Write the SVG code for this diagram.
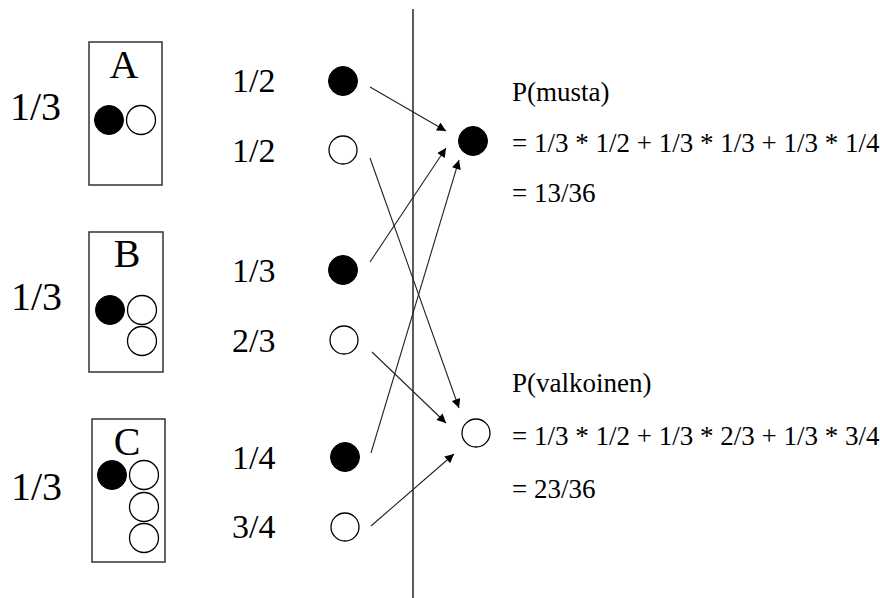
<svg xmlns="http://www.w3.org/2000/svg" width="880" height="598" viewBox="0 0 880 598">
<style>
text{font-family:'Liberation Serif','DejaVu Serif',serif;fill:#000}
.big{font-size:40px}
.mid{font-size:34px}
.eq{font-size:27px}
.box{fill:#fff;stroke:#333;stroke-width:1.5}
.b{fill:#000;stroke:#000;stroke-width:1}
.w{fill:#fff;stroke:#000;stroke-width:1.3}
.c{stroke:#222;stroke-width:1.1;fill:none;marker-end:url(#ah)}
</style>
<defs>
<marker id="ah" viewBox="0 0 10 10" refX="10" refY="5" markerWidth="11" markerHeight="9" markerUnits="userSpaceOnUse" orient="auto">
<path d="M0,0 L10,5 L0,10 z" fill="#000"/>
</marker>
</defs>
<rect width="880" height="598" fill="#fff"/>
<line x1="413" y1="9" x2="413" y2="598" stroke="#333" stroke-width="1.6"/>
<g id="urnA">
<text class="big" x="10" y="120">1/3</text>
<rect class="box" x="89" y="42" width="73" height="143"/>
<text class="big" x="124" y="78" text-anchor="middle">A</text>
<circle class="b" cx="109" cy="120" r="14.5"/>
<circle class="w" cx="141" cy="120" r="14.5"/>
</g>
<g id="urnB">
<text class="big" x="11" y="310">1/3</text>
<rect class="box" x="89" y="232" width="74" height="140"/>
<text class="big" x="127" y="267" text-anchor="middle">B</text>
<circle class="b" cx="110" cy="310" r="14.5"/>
<circle class="w" cx="142" cy="310" r="14.5"/>
<circle class="w" cx="142" cy="341" r="14.5"/>
</g>
<g id="urnC">
<text class="big" x="11" y="500">1/3</text>
<rect class="box" x="92" y="419" width="73" height="143"/>
<text class="big" x="127" y="455" text-anchor="middle">C</text>
<circle class="b" cx="112" cy="475" r="14.5"/>
<circle class="w" cx="144" cy="475" r="14.5"/>
<circle class="w" cx="144" cy="507" r="14.5"/>
<circle class="w" cx="144" cy="538" r="14.5"/>
</g>
<g id="a-black">
<text class="mid" x="232" y="92">1/2</text>
<circle class="b" cx="343" cy="81" r="14.5"/>
</g>
<g id="a-white">
<text class="mid" x="232" y="162">1/2</text>
<circle class="w" cx="343" cy="150" r="14"/>
</g>
<g id="b-black">
<text class="mid" x="232" y="282">1/3</text>
<circle class="b" cx="343" cy="270" r="14.5"/>
</g>
<g id="b-white">
<text class="mid" x="232" y="352">2/3</text>
<circle class="w" cx="344" cy="340" r="14"/>
</g>
<g id="c-black">
<text class="mid" x="232" y="469">1/4</text>
<circle class="b" cx="345" cy="457" r="14.5"/>
</g>
<g id="c-white">
<text class="mid" x="232" y="538">3/4</text>
<circle class="w" cx="345" cy="527" r="14"/>
</g>
<g id="musta">
<circle class="b" cx="473" cy="141" r="14.5"/>
<text class="eq" x="512" y="101">P(musta)</text>
<text class="eq" x="512" y="152">= 1/3 * 1/2 + 1/3 * 1/3 + 1/3 * 1/4</text>
<text class="eq" x="512" y="202">= 13/36</text>
</g>
<g id="valkoinen">
<circle class="w" cx="476" cy="433" r="14"/>
<text class="eq" x="512" y="392">P(valkoinen)</text>
<text class="eq" x="512" y="445">= 1/3 * 1/2 + 1/3 * 2/3 + 1/3 * 3/4</text>
<text class="eq" x="512" y="498">= 23/36</text>
</g>
<g id="connectors">
<line class="c" x1="370" y1="87" x2="446" y2="131"/>
<line class="c" x1="370" y1="262" x2="446" y2="148"/>
<line class="c" x1="371" y1="453" x2="459" y2="160"/>
<line class="c" x1="370" y1="158" x2="459" y2="408"/>
<line class="c" x1="372" y1="352" x2="446" y2="423"/>
<line class="c" x1="371" y1="526" x2="454" y2="454"/>
</g>
</svg>
